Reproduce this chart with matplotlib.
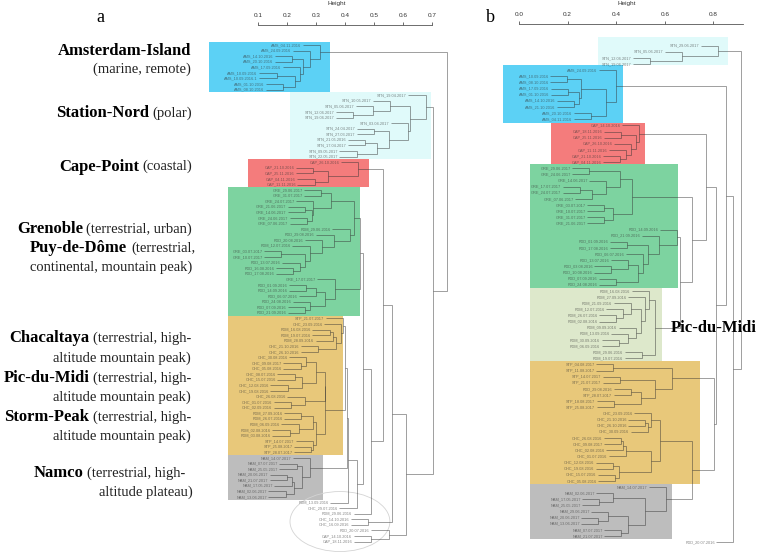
import matplotlib
matplotlib.use("Agg")
import matplotlib.pyplot as plt
from matplotlib.patches import Rectangle, Ellipse

plt.rcParams['font.family'] = 'Liberation Sans'

# ---------------- panel a : pieces of the tree, (height, left, right) ----------------
AMS_A = (0.313, "AMS_04.11.2016",
         (0.279, "AMS_24.09.2016",
          (0.255, (0.217, "AMS_14.10.2016", "AMS_20.10.2016"),
           (0.245, "AMS_17.09.2016",
            (0.227, (0.163, "AMS_10.09.2016", "AMS_10.09.2016.1"),
             (0.186, "AMS_01.10.2016", "AMS_08.10.2016"))))))

STN_A = (0.678, "STN_19.04.2017",
         (0.624,
          (0.555, "STN_10.05.2017", (0.497, "STN_05.06.2017", (0.428, "STN_12.06.2017", "STN_19.06.2017"))),
          (0.617, "STN_03.04.2017",
           (0.553, (0.50, "STN_24.04.2017", "STN_27.03.2017"),
            (0.51, (0.47, "STN_21.05.2016", "STN_17.04.2017"), (0.44, "STN_09.05.2017", "STN_22.05.2017"))))))

CAP_A = (0.445, "CAP_26.10.2016",
         (0.34, (0.29, "CAP_21.10.2016", "CAP_25.11.2016"), (0.295, "CAP_04.11.2016", "CAP_11.11.2016")))

GRE_A = (0.35, (0.318, "GRE_29.06.2017", "GRE_31.07.2017"),
         (0.29, "GRE_24.07.2017",
          (0.285, (0.262, "GRE_21.06.2017", "GRE_14.06.2017"), (0.268, "GRE_24.06.2017", "GRE_07.06.2017"))))
PDX_A = (0.416, "PDM_29.06.2016",
         (0.36, "PDD_29.08.2016",
          (0.32, "PDD_20.08.2016",
           (0.277, "PDM_12.07.2016",
            (0.26, (0.18, "GRE_03.07.2017", "GRE_10.07.2017"),
             (0.243, "PDD_13.07.2016", (0.22, "PDD_16.08.2016", "PDD_17.08.2016")))))))
PDQ_A = (0.364, "GRE_17.07.2017",
         (0.33, (0.30, (0.266, "PDD_01.09.2016", "PDD_14.09.2016"), "PDD_06.07.2016"),
          (0.28, "PDD_24.08.2016", (0.262, "PDD_07.09.2016", "PDD_21.09.2016"))))
GREEN_A = (0.451, (0.43, GRE_A, PDX_A), PDQ_A)

YEL_TOP_A = (0.393, "STP_21.07.2017",
             (0.387, "CHC_23.09.2016",
              (0.37, (0.358, (0.347, "PDM_16.08.2016", "PDM_19.07.2016"), "PDM_28.09.2016"),
               (0.306, "CHC_21.10.2016", "CHC_26.10.2016"))))
CHC_A = (0.33, (0.30, (0.266, "CHC_30.08.2016", (0.246, "CHC_09.08.2017", "CHC_05.08.2016")),
                (0.25, (0.226, "CHC_08.07.2016", "CHC_15.07.2016"), (0.202, "CHC_12.08.2016", "CHC_19.08.2016"))),
         (0.26, "CHC_26.08.2016", (0.214, "CHC_01.07.2016", "CHC_02.09.2016")))
PDM_A = (0.29, (0.249, "PDM_27.09.2016", "PDM_26.07.2016"),
         (0.24, "PDM_06.09.2016", (0.208, "PDM_02.08.2016", "PDM_03.08.2016")))
STP_A = (0.289, "STP_14.07.2017", (0.283, "STP_25.08.2017", "STP_28.07.2017"))
YELLOW_A = (0.40, YEL_TOP_A, (0.33, CHC_A, (0.30, PDM_A, STP_A)))

NAM_A = (0.279, "NAM_14.07.2017",
         (0.25, (0.233, "NAM_07.07.2017", "NAM_25.05.2017"),
          (0.225, (0.215, (0.2, "NAM_20.06.2017", "NAM_21.07.2017"), "NAM_17.05.2017"),
           (0.195, "NAM_02.06.2017", "NAM_13.06.2017"))))

LOW_A = (0.44, (0.409, (0.405, YELLOW_A, NAM_A), "PDM_13.09.2016"), "CHC_29.07.2016")
REST_A = (0.61,
          (0.563,
           (0.53, CAP_A, (0.489, (0.461, GREEN_A, LOW_A), "PDM_29.06.2016")),
           (0.479, "CHC_14.10.2016", "CHC_16.09.2016")),
          (0.55, "PDD_20.07.2016", (0.489, "CAP_14.10.2016", "CAP_18.11.2016")))
TREE_A = (0.751, AMS_A, (0.704, STN_A, REST_A))

# ---------------- panel b ----------------
STN_B = (0.818, "STN_29.06.2017", (0.672, "STN_05.06.2017", (0.539, "STN_12.06.2017", "STN_19.06.2017")))
AMS_B = (0.398, "AMS_24.09.2016",
         (0.36, (0.255, (0.199, "AMS_10.09.2016", "AMS_08.10.2016"),
                 (0.245, (0.2, "AMS_17.09.2016", "AMS_01.10.2016"), (0.225, "AMS_14.10.2016", "AMS_21.10.2016"))),
          (0.296, "AMS_20.10.2016", "AMS_04.11.2016")))
CAP_B = (0.495, "CAP_14.10.2016",
         (0.48, (0.42, "CAP_18.11.2016", "CAP_25.11.2016"),
          (0.46, "CAP_26.10.2016", (0.44, "CAP_11.11.2016", (0.414, "CAP_21.10.2016", "CAP_04.11.2016")))))
GRE_B = (0.466,
         (0.416, (0.289, "GRE_29.06.2017", "GRE_24.06.2017"),
          (0.36, "GRE_14.06.2017", (0.30, (0.25, "GRE_17.07.2017", "GRE_24.07.2017"), "GRE_07.06.2017"))),
         (0.388, (0.35, "GRE_03.07.2017", "GRE_10.07.2017"), (0.35, "GRE_31.07.2017", "GRE_21.06.2017")))
PDD_B = (0.65, "PDD_14.09.2016",
         (0.576, "PDD_21.09.2016",
          (0.53, (0.443, "PDD_01.09.2016", "PDD_17.08.2016"),
           (0.51, "PDD_06.07.2016",
            (0.49, (0.45, "PDD_13.07.2016", (0.38, "PDD_03.08.2016", "PDD_10.08.2016")),
             (0.40, "PDD_07.09.2016", "PDD_24.08.2016"))))))
PDM_B = (0.56,
         (0.535, "PDM_16.08.2016",
          (0.52, "PDM_27.09.2016",
           (0.5, (0.46, "PDM_21.09.2016", (0.43, "PDM_12.07.2016", (0.4, "PDM_26.07.2016", "PDM_02.08.2016"))),
            (0.48, "PDM_09.09.2016", (0.45, "PDM_13.09.2016", (0.41, "PDM_30.09.2016", "PDM_06.09.2016")))))),
         (0.505, "PDM_29.06.2016", "PDM_19.07.2016"))
STP_B = (0.631, (0.388, "STP_04.08.2017", "STP_11.08.2017"),
         (0.56, (0.415, "STP_14.07.2017", "STP_21.07.2017"),
          (0.5, (0.46, "PDD_29.08.2016", "STP_28.07.2017"), (0.39, "STP_18.08.2017", "STP_25.08.2017"))))
CHC_B = (0.58,
         (0.545, "CHC_23.09.2016", (0.53, (0.52, "CHC_21.10.2016", "CHC_26.10.2016"), "CHC_30.09.2016")),
         (0.545, (0.44, (0.43, (0.42, "CHC_26.08.2016", "CHC_09.08.2017"), "CHC_02.08.2016"), "CHC_01.07.2016"),
          (0.41, (0.385, "CHC_12.08.2016", "CHC_19.08.2016"), (0.395, "CHC_15.07.2016", "CHC_05.08.2016"))))
NAM_B = (0.605, "NAM_14.07.2017",
         (0.518, (0.388, "NAM_02.06.2017", (0.33, "NAM_17.05.2017", "NAM_25.05.2017")),
          (0.45, (0.368, "NAM_29.06.2017", (0.326, "NAM_20.06.2017", "NAM_13.06.2017")),
           (0.42, "NAM_07.07.2017", "NAM_21.07.2017"))))
MID_B = (0.811,
         (0.77, CAP_B, (0.711, GRE_B, (0.663, PDD_B, PDM_B))),
         (0.802, STP_B, (0.712, CHC_B, NAM_B)))
TREE_B = (0.914, STN_B, (0.882, (0.852, AMS_B, MID_B), "PDD_20.07.2016"))

# shaded groups: (x0, x1, first row, last row) in height / row units
BOX_COLORS = ['#5CD1F5', '#E0FAFA', '#F47C7C', '#7DD3A0', '#E8C87A', '#BDBDBD']
BOXES_A = [(-0.069, 0.348, -0.45, 8.48), (0.21, 0.697, 8.48, 20.5), (0.064, 0.482, 20.5, 25.5),
           (-0.005, 0.451, 25.5, 48.5), (-0.005, 0.392, 48.5, 73.5), (-0.005, 0.323, 73.5, 81.5)]
BOX_COLORS_B = ['#E0FAFA', '#5CD1F5', '#F47C7C', '#7DD3A0', '#DDE8CB', '#E8C87A', '#BDBDBD']
BOXES_B = [(0.324, 0.859, -1.37, 3.15), (-0.067, 0.429, 3.15, 12.56), (0.132, 0.519, 12.56, 19.25),
           (0.045, 0.656, 19.25, 39.53), (0.045, 0.59, 39.53, 51.39), (0.045, 0.746, 51.39, 71.5),
           (0.045, 0.628, 71.5, 80.42)]

SITE_NAMES = ["Amsterdam-Island", "", "Station-Nord", "Cape-Point", "Grenoble", "Puy-de-Dôme", "",
              "Chacaltaya", "", "Pic-du-Midi", "", "Storm-Peak", "", "Namco", ""]
SITE_NOTES = ["", "(marine, remote)", "(polar)", "(coastal)", "(terrestrial, urban)", "(terrestrial,",
              "continental, mountain peak)", "(terrestrial, high-", "altitude mountain peak)",
              "(terrestrial, high-", "altitude mountain peak)", "(terrestrial, high-",
              "altitude mountain peak)", "(terrestrial, high-", "altitude plateau)"]
SITE_ROWS_PX = [50.7, 69.3, 113.3, 166.7, 229, 248.3, 267.3, 338.3, 358.3, 378.3, 397.3,
                417.3, 436.7, 473.3, 492.7]
SITE_RIGHT_PX = [191, 191, 192, 192.5, 192, 195, 192.5, 191, 191, 191, 191, 191, 191, 185, 192.5]

W, H = 758, 553
LINE = dict(color='#333333', alpha=0.55, lw=0.6, solid_capstyle='butt', zorder=3)


def draw_tree(ax, tree, hang, gap, fs):
    count = [0]

    def walk(node):
        if isinstance(node, str):
            y = count[0]
            count[0] += 1
            return y, None, node
        h, a, b = node
        ys = []
        for child in (a, b):
            y, ch, name = walk(child)
            if ch is None:
                ax.plot([h - hang, h], [y, y], **LINE)
                ax.text(h - hang - gap, y, name, ha='right', va='center', fontsize=fs,
                        color='#333333', alpha=0.6, zorder=3)
            else:
                ax.plot([ch, h], [y, y], **LINE)
            ys.append(y)
        ax.plot([h, h], ys, **LINE)
        return (ys[0] + ys[1]) / 2, h, None

    walk(tree)


def setup_axis(ax, ticks, bound):
    for s in ['left', 'right', 'bottom']:
        ax.spines[s].set_visible(False)
    ax.spines['top'].set_bounds(*bound)
    ax.spines['top'].set_color('#555555')
    ax.spines['top'].set_linewidth(0.6)
    ax.xaxis.tick_top()
    ax.set_xticks(ticks)
    ax.set_xticklabels([f'{t:.1f}' for t in ticks])
    ax.tick_params(axis='x', direction='out', length=2.5, width=0.6, color='#555555',
                   labelsize=4.6, pad=2.5, labelcolor='#333333')
    ax.set_yticks([])
    ax.patch.set_visible(False)


fig = plt.figure(figsize=(W / 100, H / 100), dpi=100)

# panel a: leaf rows 5.58 px apart starting at y=45, height 0 at x=229.35, 289.5 px per unit
axa = fig.add_axes([205 / W, 0, 255 / W, (H - 25) / H])
axa.set_xlim((205 - 229.35) / 289.5, (460 - 229.35) / 289.5)
axa.set_ylim((H - 45) / 5.58, (25 - 45) / 5.58)
setup_axis(axa, [0.1, 0.2, 0.3, 0.4, 0.5, 0.6, 0.7], (0.1, 0.7))
for (x0, x1, r0, r1), c in zip(BOXES_A, BOX_COLORS):
    axa.add_patch(Rectangle((x0, r0), x1 - x0, r1 - r0, color=c, lw=0, zorder=1))
draw_tree(axa, TREE_A, 0.06, 0.005, 2.8)
axa.add_patch(Ellipse((0.382, 85.4), 0.345, 10.75, fill=False, ec='#d4d4d4', lw=0.6,
                      clip_on=False, zorder=2))

# panel b: rows 6.13 px apart starting at y=45.7, height 0 at x=519, 243 px per unit
axb = fig.add_axes([490 / W, 0, (W - 490) / W, (H - 24) / H])
axb.set_xlim((490 - 519) / 243, (758 - 519) / 243)
axb.set_ylim((H - 45.7) / 6.13, (24 - 45.7) / 6.13)
setup_axis(axb, [0.0, 0.2, 0.4, 0.6, 0.8], (0.0, 0.92))
for (x0, x1, r0, r1), c in zip(BOXES_B, BOX_COLORS_B):
    axb.add_patch(Rectangle((x0, r0), x1 - x0, r1 - r0, color=c, lw=0, zorder=1))
draw_tree(axb, TREE_B, 0.07, 0.006, 2.8)

fig.text(337 / W, 1 - 4 / H, 'Height', ha='center', va='center', fontsize=4.6, color='#333333')
fig.text(627 / W, 1 - 3 / H, 'Height', ha='center', va='center', fontsize=4.6, color='#333333')
fig.text(100 / W, 1 - 17 / H, 'a', ha='center', va='center', fontsize=13, family='Liberation Serif')
fig.text(490 / W, 1 - 17 / H, 'b', ha='center', va='center', fontsize=13, family='Liberation Serif')
fig.text(714 / W, 1 - 328 / H, 'Pic-du-Midi', ha='center', va='center', fontsize=12,
         fontweight='bold', family='Liberation Serif')

renderer = fig.canvas.get_renderer()
for name, note, ypx, xr in zip(SITE_NAMES, SITE_NOTES, SITE_ROWS_PX, SITE_RIGHT_PX):
    yf = 1 - ypx / H
    if note:
        t = fig.text(xr / W, yf, note, ha='right', va='center', fontsize=10.5,
                     family='Liberation Serif', color='#222222')
        xr -= t.get_window_extent(renderer).width + 3.5
    if name:
        fig.text(xr / W, yf, name, ha='right', va='center', fontsize=12,
                 fontweight='bold', family='Liberation Serif')

fig.savefig('out.png', dpi=100)
